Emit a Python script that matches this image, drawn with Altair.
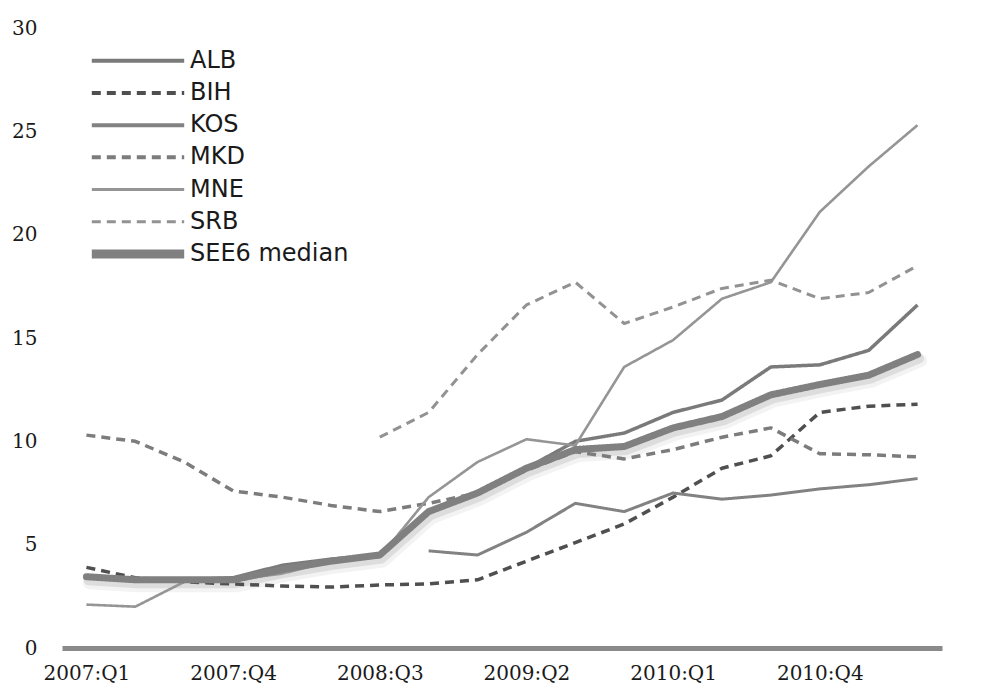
import altair as alt
import pandas as pd

quarters = ["2007:Q1", "2007:Q2", "2007:Q3", "2007:Q4",
            "2008:Q1", "2008:Q2", "2008:Q3", "2008:Q4",
            "2009:Q1", "2009:Q2", "2009:Q3", "2009:Q4",
            "2010:Q1", "2010:Q2", "2010:Q3", "2010:Q4",
            "2011:Q1", "2011:Q2"]
tick_labels = ["2007:Q1", "2007:Q4", "2008:Q3", "2009:Q2", "2010:Q1", "2010:Q4"]

alb = [3.4, 3.3, 3.3, 3.4, 4.0, 4.3, 4.5, 6.6, 7.5, 8.7, 10.0, 10.4, 11.4, 12.0, 13.6, 13.7, 14.4, 16.6]
bih = [3.9, 3.4, 3.2, 3.1, 3.0, 2.95, 3.05, 3.1, 3.3, 4.2, 5.1, 6.0, 7.3, 8.7, 9.3, 11.4, 11.7, 11.8]
kos = [None, None, None, None, None, None, None, 4.7, 4.5, 5.6, 7.0, 6.6, 7.5, 7.2, 7.4, 7.7, 7.9, 8.2]
mkd = [10.3, 10.0, 9.0, 7.6, 7.3, 6.9, 6.6, 7.0, 7.5, 8.6, 9.5, 9.15, 9.6, 10.2, 10.65, 9.4, 9.35, 9.25]
mne = [2.1, 2.0, 3.2, 3.3, 3.6, 4.2, 4.4, 7.3, 9.0, 10.1, 9.8, 13.6, 14.9, 16.9, 17.7, 21.1, 23.3, 25.3]
srb = [None, None, None, None, None, None, 10.2, 11.4, 14.2, 16.6, 17.7, 15.7, 16.5, 17.4, 17.8, 16.9, 17.2, 18.5]
median = [3.45, 3.3, 3.3, 3.3, 3.8, 4.2, 4.5, 6.6, 7.5, 8.7, 9.6, 9.75, 10.65, 11.2, 12.25, 12.75, 13.2, 14.2]

names = ["ALB", "BIH", "KOS", "MKD", "MNE", "SRB", "SEE6 median"]
series = [alb, bih, kos, mkd, mne, srb, median]
colors = ["#7a7a7a", "#4f4f4f", "#828282", "#7c7c7c", "#959595", "#929292", "#808080"]
dashes = [[1, 0], [9, 6], [1, 0], [9, 6], [1, 0], [9, 6], [1, 0]]
widths = [3.5, 3.5, 3.0, 3.5, 2.6, 3.0, 7.0]

rows = []
for n, vals, w in zip(names, series, widths):
    for q, v in zip(quarters, vals):
        if v is not None:
            rows.append({"series": n, "quarter": q, "value": v, "w": w})
df = pd.DataFrame(rows)
med_df = df[df["series"] == "SEE6 median"]
other_df = df[df["series"] != "SEE6 median"]

x_enc = alt.X("quarter:O", sort=quarters,
              scale=alt.Scale(type="point", padding=0.5),
              axis=alt.Axis(values=tick_labels, labelAngle=0, ticks=False, grid=False,
                            domainColor="#8a8a8a", domainWidth=5, title=None,
                            labelFont="DejaVu Serif", labelFontSize=20, labelColor="#1a1a1a",
                            labelPadding=15))
y_enc = alt.Y("value:Q", scale=alt.Scale(domain=[0, 30], nice=False),
              axis=alt.Axis(values=[0, 5, 10, 15, 20, 25, 30], domain=False, ticks=False,
                            grid=False, title=None, labelFont="DejaVu Serif", labelFontSize=20,
                            labelColor="#1a1a1a", labelPadding=25))

legend = alt.Legend(
    title=None, orient="none", legendX=28, legendY=21, padding=0,
    symbolType="M-4.2,0H4.2", symbolSize=484, symbolOffset=36, labelOffset=40,
    labelFont="DejaVu Sans", labelFontSize=24, labelColor="#1a1a1a",
    rowPadding=7.2, clipHeight=23.5,
    symbolStrokeWidth=alt.ExprRef(
        "datum.value === 'SEE6 median' ? 9 : ((datum.value === 'MNE' || datum.value === 'SRB') ? 3 : 4)"),
)

color_enc = alt.Color("series:N", scale=alt.Scale(domain=names, range=colors), legend=legend)
dash_enc = alt.StrokeDash("series:N", scale=alt.Scale(domain=names, range=dashes), legend=legend)
width_enc = alt.StrokeWidth("w:Q", scale=None, legend=None)

shadow1 = alt.Chart(med_df).mark_line(color="#9a9a9a", strokeWidth=13, opacity=0.12,
                                      xOffset=3, yOffset=6, strokeJoin="round", strokeCap="round").encode(
    x=x_enc, y=y_enc)
shadow2 = alt.Chart(med_df).mark_line(color="#9a9a9a", strokeWidth=9, opacity=0.25,
                                      xOffset=2, yOffset=4, strokeJoin="round", strokeCap="round").encode(
    x=x_enc, y=y_enc)

lines = alt.Chart(other_df).mark_line(strokeJoin="round", strokeCap="butt").encode(
    x=x_enc, y=y_enc, color=color_enc, strokeDash=dash_enc, strokeWidth=width_enc)

med_line = alt.Chart(med_df).mark_line(strokeJoin="round", strokeCap="round").encode(
    x=x_enc, y=y_enc, color=color_enc, strokeDash=dash_enc, strokeWidth=width_enc)

chart = alt.layer(shadow1, shadow2, lines, med_line).properties(
    width=880, height=620,
    padding={"left": 54, "top": 20, "right": 30, "bottom": 45},
    autosize=alt.AutoSizeParams(type="none"),
).configure(background="white").configure_view(stroke=None)

chart.save("out.html", embed_options={"renderer": "svg", "actions": False})
